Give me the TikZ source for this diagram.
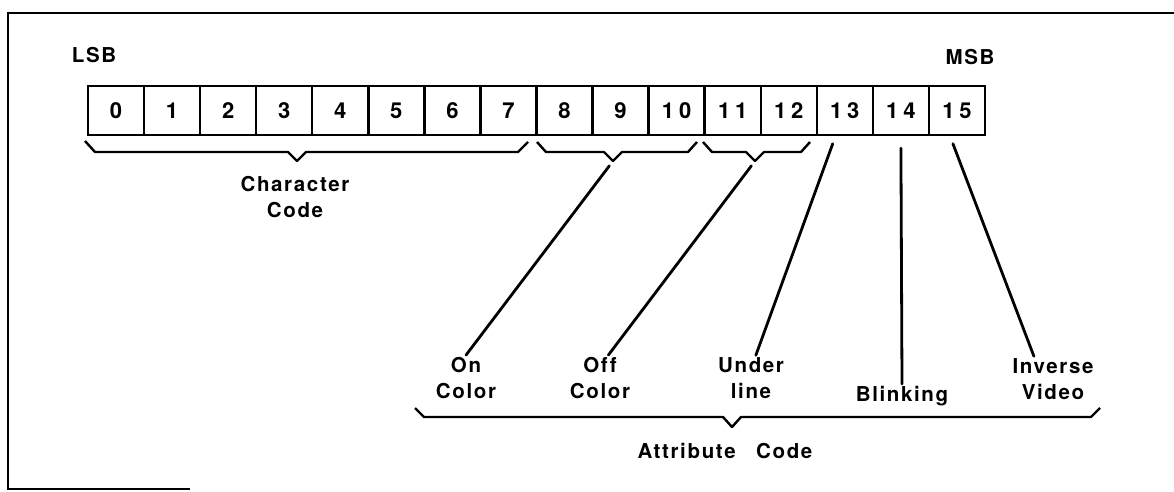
\documentclass[tikz,border=0pt]{standalone}
\usepackage{fontspec}
\setmainfont{TeX Gyre Heros}
\newfontfamily\lblfont{TeX Gyre Heros}[LetterSpace=8, Ligatures=NoCommon]
\newfontfamily\bitfont{TeX Gyre Heros}[LetterSpace=22]
\usetikzlibrary{arrows,shapes,positioning}
\tikzstyle{cell} = [rectangle, draw=black, line width=2.4pt, minimum width=56.06pt, minimum height=49pt, inner sep=0pt, font=\bitfont\bfseries\fontsize{22}{22}\selectfont]
\tikzstyle{lbl} = [align=center, inner sep=2pt, font=\lblfont\bfseries\fontsize{20.5}{26}\selectfont]
\tikzstyle{brace} = [line width=2.4pt, line join=round]
\tikzstyle{lead} = [line width=2.8pt, line cap=round]

\begin{document}
\begin{tikzpicture}[x=1pt, y=-1pt, node distance=56.06pt]
\useasboundingbox (0,0) rectangle (1174,491);
\draw [line width=2.6pt] (1174,13) -- (8,13) -- (8,489) -- (190,489);

\node (lsb) [lbl] at (94,55) {LSB};
\node (msb) [lbl] at (970,57) {MSB};

\node (b0) [cell] at (116.03,110.5) {0};
\node (b1) [cell, right of=b0] {1};
\node (b2) [cell, right of=b1] {2};
\node (b3) [cell, right of=b2] {3};
\node (b4) [cell, right of=b3] {4};
\node (b5) [cell, right of=b4] {5};
\node (b6) [cell, right of=b5] {6};
\node (b7) [cell, right of=b6] {7};
\node (b8) [cell, right of=b7] {8};
\node (b9) [cell, right of=b8] {9};
\node (b10) [cell, right of=b9] {10};
\node (b11) [cell, right of=b10] {11};
\node (b12) [cell, right of=b11] {12};
\node (b13) [cell, right of=b12] {13};
\node (b14) [cell, right of=b13] {14};
\node (b15) [cell, right of=b14] {15};

\coordinate (tipChar) at (297,161);
\coordinate (tipOn) at (613,161);
\coordinate (tipOff) at (755,161);
\coordinate (tipAtt) at (732,427);

\draw [brace] (85,141) -- (95,152) -- (288,152) -- (tipChar) -- (306,152) -- (518,152) -- (528,142);
\draw [brace] (537,142) -- (546,152) -- (604,152) -- (tipOn) -- (622,152) -- (688,152) -- (697,142);
\draw [brace] (703,142) -- (712,152) -- (746,152) -- (tipOff) -- (764,152) -- (801,152) -- (810,142);
\draw [brace] (415,408) -- (424,417) -- (723,417) -- (tipAtt) -- (741,417) -- (1091,417) -- (1100,408);

\node (charC) [lbl] at (295,197) {Character\\Code};
\node (onC) [lbl] at (466,378) {On\\Color};
\node (offC) [lbl] at (600,378) {Off\\Color};
\node (undL) [lbl] at (751,378) {Under\\line};
\node (blink) [lbl] at (902,396) {Blinking};
\node (inv) [lbl] at (1053,379) {Inverse\\Video};
\node (attC) [lbl] at (725,451) {Attribute\quad Code};

\draw [lead, shorten <=6pt] (tipOn) -- (onC.north);
\draw [lead, shorten <=6pt] (tipOff) -- (offC.70);
\draw [lead, shorten <=8pt] (b13.-110) -- (undL.78);
\draw [lead, shorten <=12pt] (b14.south) -- (blink.north);
\draw [lead, shorten <=8pt] (b15.-105) -- (inv.130);
\end{tikzpicture}
\end{document}
